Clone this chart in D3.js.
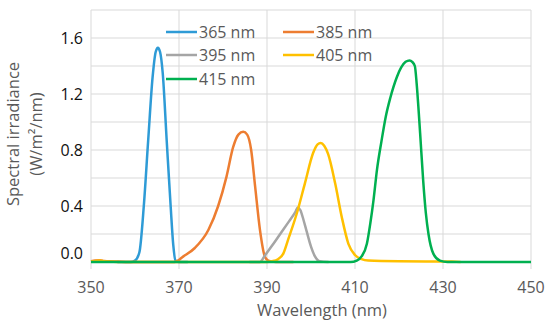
<!DOCTYPE html>
<html><head><meta charset="utf-8">
<script src="https://cdn.jsdelivr.net/npm/d3@7"></script>
<style>
html,body{margin:0;padding:0;background:#fff;}
text{font-family:"Open Sans",sans-serif;fill:#595959;}
</style></head>
<body><svg id="c" width="550" height="327"></svg>
<script>
// ---- data (wavelength nm, spectral irradiance W/m²/nm) ----
const xTicks = [350, 370, 390, 410, 430, 450];
const yTicks = [0.0, 0.4, 0.8, 1.2, 1.6];
const yGrid = [0.2, 0.4, 0.6, 0.8, 1.0, 1.2, 1.4, 1.6, 1.8];
const seriesNames = ["365 nm", "385 nm", "395 nm", "405 nm", "415 nm"];
const seriesColors = ["#2e9bd6", "#ed7d31", "#a5a5a5", "#ffc000", "#00b050"];

const s365 = [[356,0],[359,0],[360,0.01],[361,0.07],[362,0.40],[363,0.87],[364,1.32],[364.7,1.50],[365.2,1.53],[365.7,1.50],[366.3,1.35],[367.2,0.87],[368.1,0.40],[368.7,0.12],[369.2,0.01],[370,0],[372,0]];
const s385 = [[350,0.005],[351,0.01],[352,0.012],[353,0.008],[354,0.005],[356,0.003],[360,0],[369,0],[371,0.04],[373.6,0.10],[376.7,0.23],[378.9,0.40],[380.8,0.61],[382.3,0.82],[383.5,0.91],[384.6,0.93],[385.5,0.91],[386.4,0.80],[387.3,0.54],[388.4,0.23],[389.5,0.04],[390.3,0.01],[392,0],[396,0]];
const s395 = [[386,0],[388.4,0],[389.5,0.045],[391,0.11],[393,0.2],[395,0.29],[396.5,0.36],[397.0,0.39],[397.6,0.37],[398.3,0.30],[399,0.22],[400,0.11],[400.9,0.04],[402,0.005],[404,0]];
const s405 = [[350,0.004],[351,0.008],[352,0.01],[353,0.006],[354,0.003],[356,0],[390,0],[391.1,0.005],[392.5,0.02],[393.7,0.06],[394.8,0.16],[396.8,0.35],[398.6,0.56],[400.5,0.78],[401.5,0.84],[402.2,0.85],[403,0.83],[403.9,0.77],[405.5,0.56],[407,0.32],[408.5,0.13],[410,0.05],[411.5,0.02],[413,0.01],[420,0.005],[432,0.003],[434,0]];
const s415 = [[350,0],[360,0],[380,0],[400,0],[409,0],[410.4,0.01],[411.5,0.04],[412.7,0.13],[413.5,0.28],[414.2,0.44],[415,0.66],[416,0.86],[417,1.04],[418,1.17],[419.5,1.32],[420.5,1.39],[421.5,1.43],[422.4,1.44],[423,1.43],[423.6,1.40],[424.0,1.28],[424.4,1.11],[424.8,0.92],[425.5,0.58],[426.1,0.35],[426.7,0.20],[427.8,0.06],[429.3,0.01],[431,0],[440,0],[450,0]];
const seriesData = [s365, s385, s395, s405, s415];

// ---- layout ----
const svg = d3.select("#c");
const x = d3.scaleLinear().domain([350, 450]).range([91, 531]);
const y = d3.scaleLinear().domain([0, 1.8]).range([262, 10]);
const yBottom = y(-0.05);

// gridlines
svg.append("g").selectAll("line").data(yGrid).join("line")
  .attr("x1", x(350)).attr("x2", x(450))
  .attr("y1", d => y(d)).attr("y2", d => y(d))
  .attr("stroke", "#d9d9d9").attr("stroke-width", 1);
svg.append("g").selectAll("line").data(xTicks).join("line")
  .attr("x1", d => x(d)).attr("x2", d => x(d))
  .attr("y1", y(1.8)).attr("y2", yBottom)
  .attr("stroke", "#d9d9d9").attr("stroke-width", 1);

// axes labels
svg.append("g").selectAll("text").data(yTicks).join("text")
  .attr("x", 83).attr("y", d => y(d) + 5.5 - (d === 0 ? 9 : 0))
  .attr("text-anchor", "end").attr("font-size", 16).style("fill", "#111")
  .text(d => d.toFixed(1));
svg.append("g").selectAll("text").data(xTicks).join("text")
  .attr("x", d => x(d)).attr("y", 293)
  .attr("text-anchor", "middle").attr("font-size", 16)
  .text(d => d);

svg.append("text").attr("x", 322).attr("y", 316).attr("text-anchor", "middle")
  .attr("font-size", 16.5).text("Wavelength (nm)");
svg.append("text").attr("transform", "translate(19,134) rotate(-90)")
  .attr("text-anchor", "middle").attr("font-size", 16.5).text("Spectral irradiance");
svg.append("text").attr("transform", "translate(42,134) rotate(-90)")
  .attr("text-anchor", "middle").attr("font-size", 16.5).text("(W/m²/nm)");

// lines
const line = d3.line().x(d => x(d[0])).y(d => y(d[1])).curve(d3.curveMonotoneX);
svg.append("g").selectAll("path").data(seriesData).join("path")
  .attr("d", line).attr("fill", "none")
  .attr("stroke", (d, i) => seriesColors[i]).attr("stroke-width", 2.5)
  .attr("stroke-linejoin", "round");

// legend
const legPos = [[166, 32], [283, 32], [166, 55], [283, 55], [166, 79]];
const leg = svg.append("g").selectAll("g").data(seriesNames).join("g")
  .attr("transform", (d, i) => `translate(${legPos[i][0]},${legPos[i][1]})`);
leg.append("line").attr("x1", 0).attr("x2", 31).attr("y1", 0).attr("y2", 0)
  .attr("stroke", (d, i) => seriesColors[i]).attr("stroke-width", 2.5);
leg.append("text").attr("x", 33).attr("y", 5.5).attr("font-size", 16).text(d => d);
</script></body></html>
